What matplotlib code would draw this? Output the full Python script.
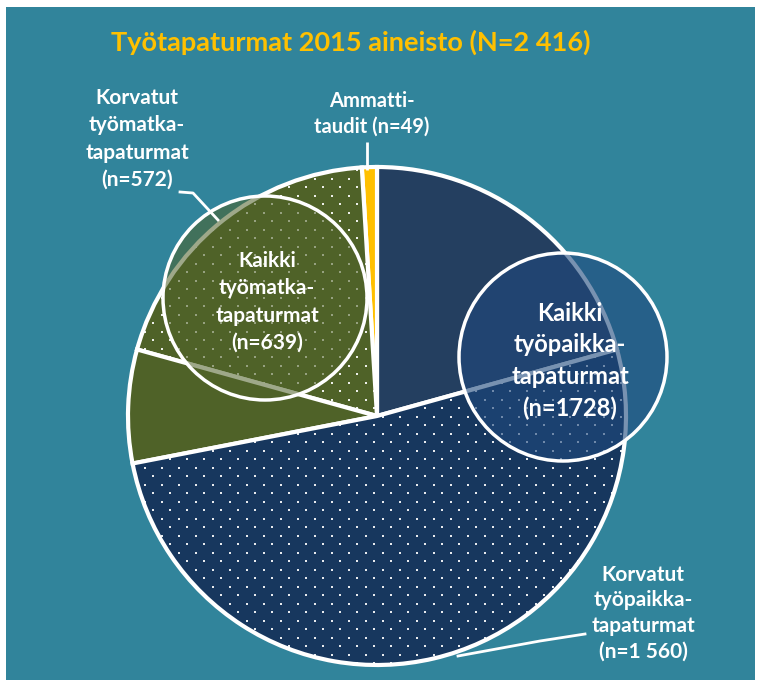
import matplotlib
matplotlib.use('Agg')
import matplotlib.pyplot as plt
from matplotlib.patches import Circle, Rectangle
import numpy as np

plt.rcParams['font.family'] = ['Lato', 'DejaVu Sans']

# ---- data ----
title_text = 'Työtapaturmat 2015 aineisto (N=2 416)'
slice_names = ['Työpaikkatapaturmat (muut)', 'Ammattitaudit', 'Korvatut työmatkatapaturmat',
               'Työmatkatapaturmat (muut)', 'Korvatut työpaikkatapaturmat']
slice_share = [74.5, 3.5, 71.0, 26.5, 184.5]      # slice sizes as drawn (degrees of the pie)
slice_colors = ['#243F60', '#FFC000', '#4F6228', '#4F6228', '#17375E']
slice_dotted = [False, False, True, False, True]
label_ammatti = 'Ammatti-\ntaudit (n=49)'
label_tm_korv = 'Korvatut\ntyömatka-\ntapaturmat\n(n=572)'
label_tm_all = 'Kaikki\ntyömatka-\ntapaturmat\n(n=639)'
label_tp_all = 'Kaikki\ntyöpaikka-\ntapaturmat\n(n=1728)'
label_tp_korv = 'Korvatut\ntyöpaikka-\ntapaturmat\n(n=1 560)'

BG = '#31849B'
W, H = 757, 680
fig = plt.figure(figsize=(W / 100, H / 100), dpi=100)
fig.patch.set_facecolor('white')
ax = fig.add_axes([0, 0, 1, 1])


def Y(y):
    return H - y


ax.add_patch(Rectangle((6, 0), 749, H - 7, facecolor=BG, edgecolor='none', zorder=0))

wedges, _ = ax.pie(slice_share, colors=slice_colors, startangle=15.5, counterclock=True,
                   center=(377, Y(416)), radius=249, frame=True,
                   wedgeprops=dict(edgecolor='white', linewidth=3))
for w in wedges:
    w.set_zorder(2)

# dotted texture (fill pattern) clipped to the dotted slices
step = 17.0
gx = np.arange(0, W + step, step)
gy = np.arange(0, H + step, step / 2)
tex_x = np.concatenate([gx + (i % 2) * step / 2 for i in range(len(gy))])
tex_y = np.repeat(gy, len(gx))
for w, dotted in zip(wedges, slice_dotted):
    if dotted:
        sc = ax.scatter(tex_x, tex_y, s=3.0, c='white', marker='s', linewidths=0,
                        alpha=0.9, zorder=2.2)
        sc.set_clip_path(w)

# overlay circles
ax.add_patch(Circle((265, Y(298)), 102, facecolor=(0x4F / 255, 0x62 / 255, 0x28 / 255, 0.55),
                    edgecolor='white', linewidth=2.5, zorder=3))
ax.add_patch(Circle((563, Y(357)), 104, facecolor=(0x1F / 255, 0x49 / 255, 0x7D / 255, 0.6),
                    edgecolor='white', linewidth=2.5, zorder=3))

# leader lines
ax.plot([367, 367], [Y(142), Y(170)], color='white', lw=2, zorder=4, solid_capstyle='butt')
ax.plot([180, 193, 218], [Y(192), Y(193), Y(220)], color='white', lw=2, zorder=4)
ax.plot([585, 540, 458], [Y(634), Y(641), Y(656)], color='white', lw=2, zorder=4)

# texts
ax.text(351, Y(42), title_text, color='#FFC000', fontsize=19.5, fontweight='bold',
        ha='center', va='center', zorder=5)
kw = dict(color='white', fontweight='bold', ha='center', va='center', zorder=5)
ax.text(372, Y(114), label_ammatti, fontsize=14.5, linespacing=1.35, **kw)
ax.text(137, Y(139), label_tm_korv, fontsize=15, linespacing=1.45, **kw)
ax.text(267, Y(302), label_tm_all, fontsize=15, linespacing=1.45, **kw)
ax.text(570, Y(361), label_tp_all, fontsize=17, linespacing=1.45, **kw)
ax.text(643, Y(613), label_tp_korv, fontsize=15, linespacing=1.35, **kw)

ax.set_xlim(0, W)
ax.set_ylim(0, H)
ax.set_aspect('equal')
ax.axis('off')

fig.savefig('out.png', dpi=100, facecolor=fig.get_facecolor())
